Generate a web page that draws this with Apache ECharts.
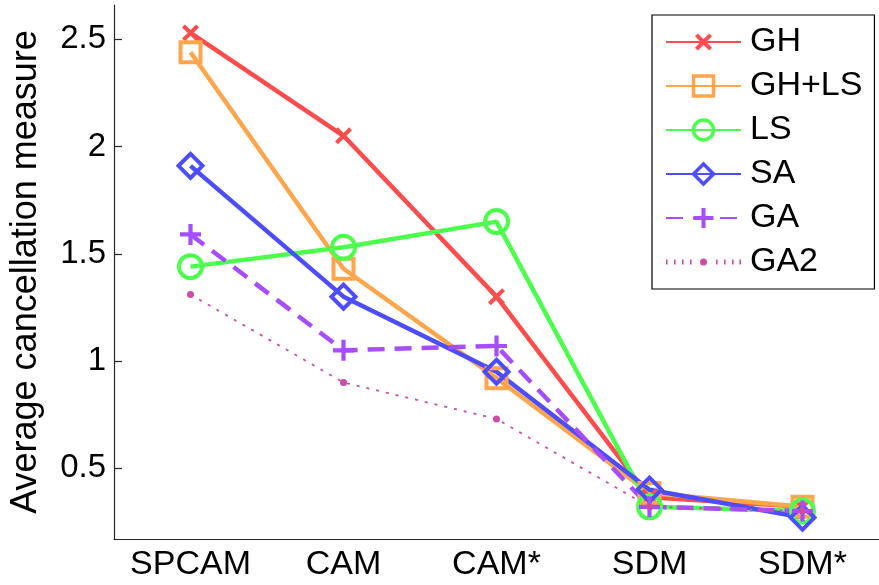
<!DOCTYPE html>
<html>
<head>
<meta charset="utf-8">
<script src="https://cdn.jsdelivr.net/npm/echarts@6/dist/echarts.min.js"></script>
<style>
  html, body { margin: 0; padding: 0; background: #fff; }
  #main { width: 879px; height: 585px; }
</style>
</head>
<body>
<div id="main"></div>
<script>
// categories and values
var categories = ['SPCAM', 'CAM', 'CAM*', 'SDM', 'SDM*'];
var yTicks = [0.5, 1, 1.5, 2, 2.5];

var ghData   = [2.53, 2.05, 1.30, 0.365, 0.32];
var ghlsData = [2.44, 1.43, 0.92, 0.385, 0.32];
var lsData   = [1.44, 1.53, 1.65, 0.32, 0.30];
var saData   = [1.91, 1.30, 0.95, 0.40, 0.27];
var gaData   = [1.59, 1.05, 1.07, 0.32, 0.30];
var ga2Data  = [1.31, 0.90, 0.73, 0.32, 0.30];

var font = 'Liberation Sans, Arial, Helvetica, sans-serif';
var plusPath = 'path://M4,0H6V4H10V6H6V10H4V6H0V4H4Z';

// legend icon for the dotted GA2 entry: small ticks + a small dot (75 x 7 box)
var ga2Icon = 'path://M0,1H1.6V6H0Z M8,1H9.6V6H8Z M16,1H17.6V6H16Z M24,1H25.6V6H24Z' +
    ' M34,3.5A3.5,3.5 0 1,0 41,3.5A3.5,3.5 0 1,0 34,3.5Z' +
    ' M50,1H51.6V6H50Z M58,1H59.6V6H58Z M66,1H67.6V6H66Z M73.4,1H75V6H73.4Z';

function mkLine(name, data, color, symbol, size, opts) {
    opts = opts || {};
    return {
        name: name,
        type: 'line',
        data: data,
        symbol: symbol,
        symbolSize: size,
        symbolRotate: opts.rotate || 0,
        showAllSymbol: true,
        lineStyle: { color: color, width: opts.width || 4.5, type: opts.dash || 'solid' },
        itemStyle: opts.hollow
            ? { color: 'rgba(0,0,0,0)', borderColor: color, borderWidth: 4 }
            : { color: color, borderWidth: 0 },
        emphasis: { disabled: true }
    };
}

var myChart = echarts.init(document.getElementById('main'));

var option = {
    animation: false,
    backgroundColor: '#fff',
    grid: { left: 112, right: -6, top: 5, bottom: 46 },
    legend: {
        orient: 'vertical',
        left: 652,
        top: 15,
        padding: [10, 12, 10, 13],
        borderColor: '#000',
        borderWidth: 1.2,
        backgroundColor: '#fff',
        itemWidth: 75,
        itemHeight: 25,
        itemGap: 10,
        symbolKeepAspect: true,
        textStyle: { fontFamily: font, fontSize: 34, color: '#000', padding: [0, 0, 0, 4] },
        data: [
            'GH',
            { name: 'GH+LS', itemStyle: { borderWidth: 3.5 } },
            { name: 'LS', itemStyle: { borderWidth: 3.5 } },
            { name: 'SA', itemStyle: { borderWidth: 3.5 } },
            'GA',
            { name: 'GA2', icon: ga2Icon }
        ]
    },
    xAxis: {
        type: 'category',
        data: categories,
        boundaryGap: true,
        axisLine: { lineStyle: { color: '#262626', width: 1.2 } },
        axisTick: { inside: true, alignWithLabel: true, length: 8, lineStyle: { color: '#262626', width: 1.2 } },
        axisLabel: { interval: 0, hideOverlap: false, fontFamily: font, fontSize: 34, color: '#000', margin: 9 },
        splitLine: { show: false }
    },
    yAxis: {
        type: 'value',
        min: 0.17,
        max: 2.66,
        name: 'Average cancellation measure',
        nameLocation: 'middle',
        nameGap: 70,
        nameTextStyle: { fontFamily: font, fontSize: 36, color: '#000' },
        axisLine: { show: true, lineStyle: { color: '#262626', width: 1.2 } },
        axisTick: { show: true, inside: true, length: 8, customValues: yTicks, lineStyle: { color: '#262626', width: 1.2 } },
        axisLabel: {
            fontFamily: font, fontSize: 33, color: '#000', margin: 8,
            customValues: yTicks,
            formatter: function (v) { return String(v); }
        },
        splitLine: { show: false }
    },
    series: [
        mkLine('GH', ghData, '#ff4d4d', plusPath, 20, { rotate: 45 }),
        mkLine('GH+LS', ghlsData, '#ffa64d', 'rect', 20, { hollow: true }),
        mkLine('LS', lsData, '#4dff4d', 'circle', 23, { hollow: true }),
        mkLine('SA', saData, '#4d4dff', 'diamond', 24, { hollow: true }),
        mkLine('GA', gaData, '#a64dff', plusPath, 21, { dash: [17, 10] }),
        mkLine('GA2', ga2Data, '#cc4da6', 'circle', 7, { width: 1.8, dash: [3, 7] })
    ]
};

myChart.setOption(option);
</script>
</body>
</html>
